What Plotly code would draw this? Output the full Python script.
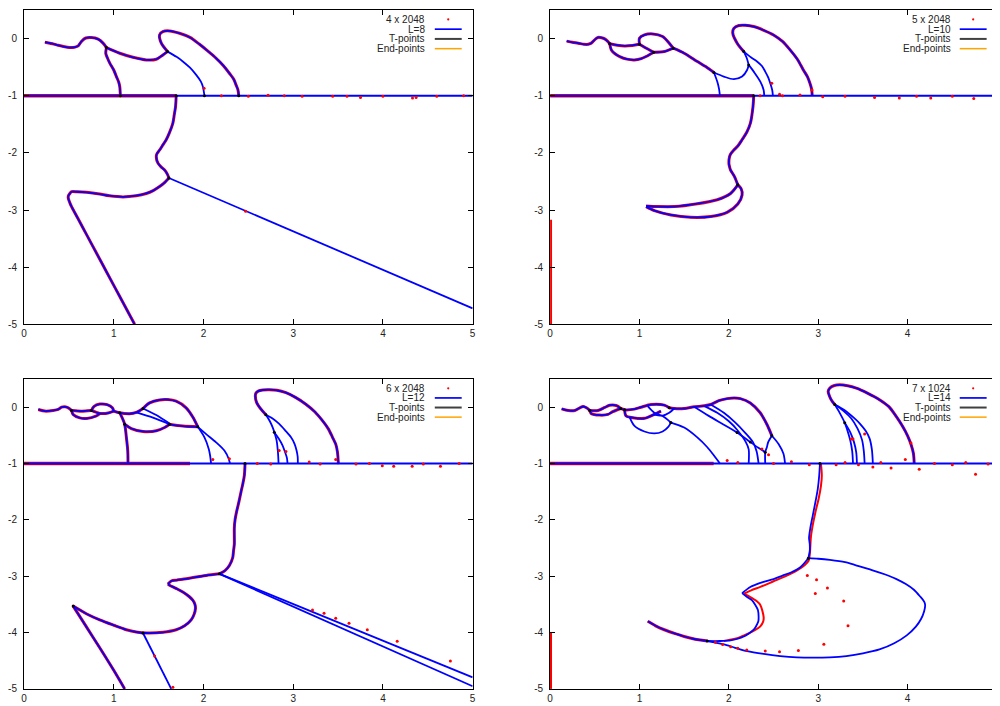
import plotly.graph_objects as go

# ---------------- labels / ticks ----------------
SERIES_LABELS = ["4 x 2048", "5 x 2048", "6 x 2048", "7 x 1024"]
LINE_LABELS = ["L=8", "L=10", "L=12", "L=14"]
X_TICKS_LEFT = [0, 1, 2, 3, 4, 5]
X_TICKS_RIGHT = [0, 1, 2, 3, 4]
Y_TICKS = [0, -1, -2, -3, -4, -5]
Y_TICK_TEXT = ["0", "-1", "-2", "-3", "-4", "-5"]

# ---------------- panel 1 (4 x 2048, L=8) ----------------
P1_X = [
    [0.233, 0.30, 0.363, 0.44, 0.511, 0.57, 0.604, 0.64, 0.689, 0.752, 0.826, 0.881, 0.919],
    [0.919, 1.067, 1.215, 1.363, 1.474, 1.548, 1.6],
    [0.919, 0.911, 0.93, 0.956, 1.0, 1.03, 1.055, 1.067, 1.074],
    [1.6, 1.53, 1.511, 1.548, 1.622, 1.733, 1.85, 1.956, 2.05, 2.141, 2.22, 2.289, 2.34, 2.363, 2.385, 2.393],
    [1.6, 1.70, 1.77, 1.85, 1.919, 1.97, 1.993, 2.011],
    [1.696, 1.689, 1.675, 1.659, 1.62, 1.585, 1.54, 1.511, 1.48, 1.474, 1.493, 1.53, 1.567, 1.6, 1.615],
    [1.615, 5.0],
    [1.615, 1.56, 1.511, 1.44, 1.363, 1.25, 1.104, 0.95, 0.844, 0.70, 0.585, 0.53, 0.511, 0.495, 0.493, 0.51, 0.53, 0.60, 0.696, 0.80, 0.919, 1.07, 1.233],
    [0.0, 5.0],
]
P1_Y = [
    [-0.064, -0.085, -0.11, -0.14, -0.158, -0.15, -0.128, -0.05, 0.01, 0.018, -0.01, -0.08, -0.158],
    [-0.158, -0.257, -0.327, -0.373, -0.362, -0.286, -0.228],
    [-0.158, -0.257, -0.34, -0.43, -0.55, -0.665, -0.76, -0.84, -1.0],
    [-0.228, -0.08, 0.064, 0.123, 0.134, 0.093, 0.02, -0.10, -0.22, -0.344, -0.47, -0.607, -0.72, -0.811, -0.9, -1.0],
    [-0.228, -0.32, -0.40, -0.51, -0.636, -0.75, -0.84, -1.0],
    [-1.0, -1.19, -1.33, -1.48, -1.65, -1.77, -1.88, -1.95, -2.02, -2.07, -2.18, -2.25, -2.30, -2.38, -2.44],
    [-2.44, -4.72],
    [-2.44, -2.53, -2.59, -2.66, -2.71, -2.75, -2.77, -2.75, -2.72, -2.69, -2.68, -2.68, -2.71, -2.75, -2.79, -2.87, -2.94, -3.145, -3.426, -3.731, -4.08, -4.522, -5.0],
    [-1.0, -1.0],
]
P1_RED = [1, 1, 1, 1, 0, 1, 0, 1, 0]
P1_REDONLY_X = [[0.0, 1.7]]
P1_REDONLY_Y = [[-1.0, -1.0]]
P1_T_X = [0.919, 1.6, 1.615, 1.074, 2.011, 2.393, 1.696]
P1_T_Y = [-0.158, -0.228, -2.44, -1.0, -1.0, -1.0, -1.0]
P1_DOT_X = [2.007, 2.2, 2.5, 2.72, 2.9, 3.1, 3.44, 3.6, 3.75, 4.0, 4.33, 4.37, 4.6, 4.9, 2.47]
P1_DOT_Y = [-0.87, -1.0, -1.01, -0.99, -1.0, -1.01, -1.01, -1.01, -1.03, -1.01, -1.04, -1.03, -1.01, -1.0, -3.02]

# ---------------- panel 2 (5 x 2048, L=10) ----------------
P2_X = [
    [0.185, 0.25, 0.315, 0.38, 0.426, 0.46, 0.481, 0.51, 0.537, 0.575, 0.611, 0.645, 0.667],
    [0.667, 0.75, 0.833, 0.92, 1.0],
    [0.667, 0.685, 0.73, 0.778, 0.86, 0.944, 1.02, 1.074, 1.159],
    [1.0, 1.0, 1.056, 1.148, 1.259, 1.333, 1.378],
    [1.0, 1.056, 1.159],
    [1.159, 1.278, 1.378],
    [1.378, 1.5, 1.648, 1.74, 1.833],
    [1.833, 1.87, 1.89, 1.9],
    [1.833, 1.944, 2.056, 2.148, 2.204, 2.222],
    [2.222, 2.2, 2.167],
    [2.167, 2.093, 2.044, 2.056, 2.111, 2.185, 2.278, 2.39, 2.5, 2.6, 2.685, 2.77, 2.833, 2.88, 2.907, 2.925, 2.933],
    [2.222, 2.278, 2.352, 2.389, 2.396],
    [2.167, 2.25, 2.315, 2.37, 2.407, 2.44, 2.463, 2.485, 2.493],
    [2.278, 2.27, 2.241, 2.2, 2.148, 2.1, 2.056, 2.02, 2.007, 2.0, 2.007, 2.019, 2.063, 2.1],
    [2.1, 2.019, 1.87, 1.648, 1.389, 1.204, 1.074],
    [1.074, 1.167, 1.352, 1.574, 1.796, 1.981, 2.1, 2.148, 2.137, 2.1],
    [0.0, 5.0],
]
P2_Y = [
    [-0.045, -0.065, -0.08, -0.10, -0.10, -0.08, -0.05, -0.005, 0.02, 0.015, -0.006, -0.05, -0.09],
    [-0.09, -0.115, -0.128, -0.12, -0.099],
    [-0.09, -0.198, -0.27, -0.314, -0.36, -0.373, -0.35, -0.314, -0.239],
    [-0.099, 0.006, 0.065, 0.082, 0.036, -0.081, -0.168],
    [-0.099, -0.151, -0.239],
    [-0.239, -0.227, -0.168],
    [-0.168, -0.256, -0.402, -0.49, -0.594],
    [-0.594, -0.752, -0.88, -1.003],
    [-0.594, -0.665, -0.711, -0.665, -0.55, -0.461],
    [-0.461, -0.34, -0.228],
    [-0.228, -0.08, 0.093, 0.18, 0.228, 0.233, 0.21, 0.145, 0.064, -0.05, -0.198, -0.37, -0.548, -0.67, -0.782, -0.88, -1.0],
    [-0.461, -0.578, -0.753, -0.9, -1.0],
    [-0.228, -0.33, -0.40, -0.48, -0.578, -0.68, -0.782, -0.9, -1.0],
    [-1.0, -1.19, -1.48, -1.64, -1.77, -1.88, -1.95, -2.02, -2.07, -2.18, -2.24, -2.30, -2.415, -2.56],
    [-2.56, -2.71, -2.82, -2.89, -2.94, -2.94, -2.93],
    [-2.94, -3.01, -3.086, -3.127, -3.115, -3.04, -2.894, -2.736, -2.625, -2.56],
    [-1.0, -1.0],
]
P2_RED = [1, 1, 1, 1, 1, 1, 1, 0, 0, 0, 1, 0, 0, 1, 1, 1, 0]
P2_REDONLY_X = [[0.0, 2.28], [0.008, 0.008]]
P2_REDONLY_Y = [[-1.0, -1.0], [-3.17, -5.0]]
P2_T_X = [0.667, 1.0, 1.159, 1.378, 1.833, 2.167, 2.222, 2.1, 2.278]
P2_T_Y = [-0.09, -0.099, -0.239, -0.168, -0.594, -0.228, -0.461, -2.56, -1.0]
P2_DOT_X = [2.48, 2.567, 2.796, 2.93, 3.05, 3.3, 3.63, 3.907, 4.1, 4.259, 4.5, 4.74, 2.35, 2.6]
P2_DOT_Y = [-0.78, -0.975, -0.986, -0.9, -1.02, -1.01, -1.03, -1.04, -1.01, -1.04, -1.01, -1.05, -1.0, -1.0]

# ---------------- panel 3 (6 x 2048, L=12) ----------------
P3_X = [
    [0.159, 0.233, 0.326, 0.381, 0.419, 0.456, 0.493, 0.530],
    [0.53, 0.641, 0.752],
    [0.53, 0.548, 0.622, 0.7, 0.8, 0.85],
    [0.752, 0.778, 0.844, 0.926, 0.985, 1.0],
    [0.752, 0.844, 0.937, 1.0],
    [1.0, 1.067, 1.178, 1.252, 1.326],
    [1.326, 1.4, 1.511, 1.604, 1.696, 1.807, 1.881, 1.937],
    [1.067, 1.085, 1.122, 1.141, 1.156, 1.159],
    [1.122, 1.196, 1.326, 1.474, 1.567, 1.622],
    [1.252, 1.437, 1.622],
    [1.326, 1.474, 1.622],
    [1.622, 1.77, 1.937],
    [1.937, 2.011, 2.059, 2.074, 2.085],
    [1.937, 2.03, 2.141, 2.233, 2.281, 2.296],
    [2.696, 2.641, 2.593, 2.578, 2.585, 2.61, 2.66, 2.733, 2.82, 2.919, 3.03, 3.141, 3.24, 3.326, 3.39, 3.437, 3.475, 3.493, 3.504],
    [2.696, 2.74, 2.77, 2.795, 2.815, 2.83, 2.837],
    [2.789, 2.84, 2.881, 2.91, 2.93, 2.937],
    [2.696, 2.77, 2.844, 2.91, 2.974, 3.015, 3.037, 3.05, 3.052],
    [2.463, 2.456, 2.44, 2.419, 2.395, 2.370, 2.352, 2.344, 2.344, 2.344, 2.335, 2.326, 2.289, 2.24, 2.178],
    [2.178, 2.03, 1.9, 1.807, 1.70, 1.641, 1.604],
    [1.604, 1.622, 1.70, 1.77, 1.84, 1.881, 1.905, 1.911, 1.895, 1.863, 1.79, 1.696, 1.55, 1.363, 1.25, 1.141, 1.0, 0.844, 0.70, 0.548],
    [0.548, 0.696, 0.844, 1.0, 1.122],
    [1.326, 1.641],
    [2.178, 5.0],
    [2.178, 5.0],
    [0.0, 5.0],
]
P3_Y = [
    [-0.040, -0.069, -0.058, -0.040, 0.0, 0.006, -0.011, -0.058],
    [-0.058, -0.07, -0.058],
    [-0.058, -0.13, -0.19, -0.2, -0.16, -0.11],
    [-0.058, 0.01, 0.055, 0.045, -0.011, -0.069],
    [-0.058, -0.11, -0.104, -0.069],
    [-0.069, -0.10, -0.116, -0.093, -0.023],
    [-0.023, 0.076, 0.129, 0.135, 0.106, -0.011, -0.174, -0.349],
    [-0.10, -0.157, -0.303, -0.536, -0.77, -1.003],
    [-0.303, -0.379, -0.431, -0.419, -0.361, -0.303],
    [-0.093, -0.186, -0.303],
    [-0.023, -0.14, -0.291],
    [-0.303, -0.335, -0.349],
    [-0.349, -0.536, -0.74, -0.857, -1.003],
    [-0.349, -0.478, -0.624, -0.77, -0.915, -1.003],
    [-0.134, -0.034, 0.082, 0.199, 0.25, 0.285, 0.305, 0.31, 0.30, 0.257, 0.17, 0.053, -0.08, -0.239, -0.38, -0.53, -0.66, -0.793, -1.009],
    [-0.134, -0.25, -0.355, -0.47, -0.589, -0.8, -1.0],
    [-0.443, -0.56, -0.676, -0.8, -0.9, -1.0],
    [-0.134, -0.2, -0.297, -0.41, -0.53, -0.65, -0.764, -0.88, -1.0],
    [-1.003, -1.208, -1.35, -1.50, -1.68, -1.85, -2.0, -2.14, -2.3, -2.43, -2.55, -2.67, -2.81, -2.9, -2.958],
    [-2.958, -2.987, -3.02, -3.046, -3.07, -3.085, -3.14],
    [-3.14, -3.16, -3.22, -3.28, -3.36, -3.425, -3.5, -3.57, -3.68, -3.775, -3.88, -3.95, -3.995, -4.008, -3.99, -3.95, -3.87, -3.775, -3.67, -3.53],
    [-3.53, -3.90, -4.27, -4.67, -5.0],
    [-4.008, -5.0],
    [-2.958, -4.796],
    [-2.958, -4.953],
    [-1.0, -1.0],
]
P3_RED = [1, 1, 1, 1, 1, 1, 1, 1, 1, 0, 0, 1, 0, 0, 1, 0, 0, 0, 1, 1, 1, 1, 0, 0, 0, 0]
P3_REDONLY_X = [[0.0, 1.85]]
P3_REDONLY_Y = [[-1.0, -1.0]]
P3_T_X = [0.53, 0.752, 1.067, 1.122, 1.326, 1.622, 1.937, 2.696, 2.789, 2.178, 1.326, 0.548, 2.463]
P3_T_Y = [-0.058, -0.058, -0.10, -0.303, -0.023, -0.303, -0.349, -0.134, -0.443, -2.958, -4.008, -3.53, -1.0]
P3_DOT_X = [1.456, 1.659, 3.215, 3.344, 3.474, 3.622, 3.826, 4.159, 4.752, 2.289, 2.104, 3.178, 3.474,
            2.844, 2.919, 3.993, 4.12, 4.326, 4.641, 2.6, 2.75, 3.3, 3.7, 3.85, 4.45, 4.85]
P3_DOT_Y = [-4.417, -4.97, -3.6, -3.658, -3.746, -3.833, -3.95, -4.154, -4.504, -0.916, -0.93, -0.974, -0.93,
            -0.77, -0.788, -1.04, -1.05, -1.05, -1.05, -1.0, -1.01, -1.01, -1.01, -1.0, -1.01, -1.0]

# ---------------- panel 4 (7 x 1024, L=14) ----------------
P4_X = [
    [0.129, 0.203, 0.277, 0.333, 0.37, 0.407, 0.444],
    [0.444, 0.537, 0.611, 0.666, 0.74, 0.79],
    [0.444, 0.463, 0.555, 0.648, 0.70, 0.79],
    [0.79, 0.833, 0.944, 1.018, 1.129, 1.277, 1.333],
    [1.333, 1.388, 1.5, 1.611, 1.722, 1.796, 1.888, 1.981, 2.06, 2.129, 2.24, 2.351, 2.425, 2.481],
    [2.481, 2.556, 2.611, 2.629],
    [2.481, 2.44, 2.425, 2.407, 2.407],
    [1.722, 1.87, 2.0, 2.092, 2.19, 2.222, 2.222],
    [1.796, 1.944, 2.07, 2.18, 2.27, 2.31, 2.333],
    [1.611, 1.77, 1.92, 2.092, 2.24, 2.33, 2.407],
    [0.833, 0.851, 0.925, 1.055, 1.148, 1.203, 1.24],
    [0.888, 0.944, 1.055, 1.166, 1.259, 1.322, 1.351],
    [1.092, 1.166, 1.259, 1.351],
    [1.148, 1.26, 1.333, 1.388],
    [1.351, 1.5, 1.647, 1.759, 1.833, 1.888, 1.9],
    [3.185, 3.15, 3.125, 3.111, 3.13, 3.18, 3.24, 3.33, 3.426, 3.55, 3.685, 3.79, 3.87, 3.94, 4.0, 4.04, 4.065, 4.074],
    [3.185, 3.24, 3.296, 3.33, 3.36, 3.38, 3.389],
    [3.296, 3.36, 3.40, 3.425, 3.433],
    [3.185, 3.278, 3.37, 3.44, 3.49, 3.51, 3.519],
    [3.185, 3.296, 3.40, 3.463, 3.53, 3.574, 3.60, 3.611],
    [3.019, 3.011, 2.995, 2.97, 2.94, 2.912, 2.897, 2.905, 2.905, 2.889],
    [2.889, 2.8, 2.7, 2.6, 2.5, 2.389, 2.3, 2.24, 2.148],
    [2.148, 2.204, 2.26, 2.296, 2.325, 2.333, 2.33, 2.3, 2.278, 2.22, 2.167, 2.1, 2.019, 1.9, 1.759],
    [1.759, 1.6, 1.5, 1.4, 1.278, 1.18, 1.093],
    [2.889, 3.0, 3.13, 3.3, 3.43, 3.6, 3.75, 3.87, 3.98, 4.07, 4.14, 4.185, 4.196, 4.185, 4.15, 4.09, 3.99, 3.85,
     3.685, 3.5, 3.315, 3.13, 2.944, 2.76, 2.574, 2.39, 2.204, 2.07, 1.944, 1.85, 1.759],
    [0.0, 5.0],
]
P4_Y = [
    [-0.029, -0.058, -0.058, -0.011, 0.012, -0.011, -0.058],
    [-0.058, -0.058, -0.005, 0.035, 0.03, -0.023],
    [-0.058, -0.116, -0.14, -0.128, -0.08, -0.023],
    [-0.023, -0.046, -0.034, 0.0, 0.047, 0.036, -0.011],
    [-0.011, -0.023, -0.023, 0.006, 0.024, 0.047, 0.117, 0.152, 0.164, 0.152, 0.076, -0.099, -0.303, -0.507],
    [-0.507, -0.653, -0.828, -1.003],
    [-0.507, -0.62, -0.711, -0.799, -1.003],
    [0.024, -0.10, -0.25, -0.40, -0.62, -0.75, -1.0],
    [0.047, -0.10, -0.27, -0.45, -0.62, -0.78, -1.0],
    [0.006, -0.15, -0.29, -0.45, -0.62, -0.72, -0.799],
    [-0.046, -0.157, -0.186, -0.198, -0.140, -0.10, -0.07],
    [-0.17, -0.332, -0.431, -0.466, -0.431, -0.35, -0.273],
    [0.018, -0.099, -0.157, -0.273],
    [-0.128, -0.15, -0.10, -0.023],
    [-0.273, -0.361, -0.536, -0.711, -0.857, -0.974, -1.003],
    [0.047, 0.12, 0.2, 0.28, 0.34, 0.385, 0.397, 0.38, 0.338, 0.25, 0.134, 0.01, -0.158, -0.33, -0.508, -0.67, -0.82, -1.0],
    [0.047, -0.1, -0.274, -0.43, -0.6, -0.78, -1.0],
    [-0.274, -0.45, -0.62, -0.8, -1.0],
    [0.047, -0.06, -0.2, -0.38, -0.58, -0.78, -1.0],
    [0.047, -0.053, -0.19, -0.286, -0.42, -0.554, -0.75, -1.0],
    [-1.0, -1.21, -1.45, -1.67, -1.91, -2.14, -2.32, -2.43, -2.55, -2.68],
    [-2.68, -2.84, -2.93, -2.99, -3.05, -3.10, -3.15, -3.19, -3.30],
    [-3.30, -3.37, -3.43, -3.51, -3.6, -3.72, -3.80, -3.90, -3.95, -4.02, -4.07, -4.11, -4.14, -4.15, -4.15],
    [-4.15, -4.11, -4.07, -4.02, -3.95, -3.88, -3.80],
    [-2.68, -2.69, -2.71, -2.75, -2.81, -2.89, -2.97, -3.046, -3.14, -3.24, -3.36, -3.45, -3.51, -3.62, -3.76, -3.90, -4.05, -4.19,
     -4.3, -4.37, -4.417, -4.44, -4.446, -4.44, -4.417, -4.38, -4.33, -4.27, -4.21, -4.18, -4.15],
    [-1.0, -1.0],
]
P4_RED = [1, 1, 1, 1, 1, 0, 0, 0, 0, 0, 1, 0, 0, 0, 0, 1, 0, 0, 0, 0, 0, 0, 0, 1, 0, 0]
P4_REDONLY_X = [
    [0.0, 1.83],
    [0.008, 0.008],
    [3.03, 3.04, 3.03, 3.005, 2.97, 2.94, 2.918, 2.91, 2.905, 2.893, 2.85, 2.759, 2.611, 2.5, 2.352, 2.25, 2.167],
    [2.167, 2.24, 2.31, 2.352, 2.389, 2.385, 2.352, 2.30, 2.24, 2.17, 2.093, 2.0, 1.944],
]
P4_REDONLY_Y = [
    [-1.0, -1.0],
    [-4.0, -5.0],
    [-1.0, -1.21, -1.4, -1.62, -1.85, -2.08, -2.3, -2.52, -2.62, -2.72, -2.8, -2.90, -3.016, -3.09, -3.19, -3.25, -3.31],
    [-3.31, -3.37, -3.44, -3.51, -3.72, -3.80, -3.89, -3.95, -4.0, -4.05, -4.10, -4.13, -4.15],
]
P4_T_X = [0.444, 0.79, 0.833, 1.351, 1.333, 2.481, 2.407, 2.092, 2.24, 3.185, 3.296, 2.889, 1.759, 3.019]
P4_T_Y = [-0.058, -0.023, -0.046, -0.273, -0.011, -0.507, -0.799, -0.45, -0.62, 0.047, -0.274, -2.68, -4.15, -1.0]
P4_DOT_X = [1.981, 2.37, 2.444, 3.389, 3.519, 3.974, 4.037, 4.13, 4.76, 3.815, 3.611, 2.878, 2.981, 3.103, 2.967,
            3.285, 3.333, 3.063, 2.778, 2.567, 2.407, 1.85, 1.93, 2.02, 2.1, 2.2, 2.1, 2.5, 2.7, 2.9, 3.2,
            3.3, 3.45, 3.7, 4.3, 4.5, 4.65, 4.9, 3.37]
P4_DOT_Y = [-0.945, -0.741, -0.846, -0.566, -0.478, -0.928, -0.636, -1.1, -1.19, -1.08, -1.06, -2.986, -3.063, -3.208, -3.308,
            -3.441, -3.879, -4.206, -4.317, -4.341, -4.329, -4.17, -4.21, -4.25, -4.28, -4.31, -0.98, -1.0, -0.97, -1.02, -1.02,
            -0.98, -1.02, -0.98, -1.0, -1.02, -0.98, -1.01, -0.565]

PANELS = [
    (P1_X, P1_Y, P1_RED, P1_REDONLY_X, P1_REDONLY_Y, P1_T_X, P1_T_Y, P1_DOT_X, P1_DOT_Y),
    (P2_X, P2_Y, P2_RED, P2_REDONLY_X, P2_REDONLY_Y, P2_T_X, P2_T_Y, P2_DOT_X, P2_DOT_Y),
    (P3_X, P3_Y, P3_RED, P3_REDONLY_X, P3_REDONLY_Y, P3_T_X, P3_T_Y, P3_DOT_X, P3_DOT_Y),
    (P4_X, P4_Y, P4_RED, P4_REDONLY_X, P4_REDONLY_Y, P4_T_X, P4_T_Y, P4_DOT_X, P4_DOT_Y),
]
AXES = [("x", "y"), ("x2", "y2"), ("x3", "y3"), ("x4", "y4")]

RED = "#ff0000"
BLUE = "#0000ff"
FONT = "Liberation Sans, Arial, Helvetica, sans-serif"

fig = go.Figure()

for (xs, ys, redflags, rox, roy, tx, ty, dx, dy), (xa, ya) in zip(PANELS, AXES):
    # red underlay (the data points, dense along the curves)
    for sx, sy, f in zip(xs, ys, redflags):
        if f:
            fig.add_trace(go.Scatter(x=sx, y=sy, xaxis=xa, yaxis=ya, mode="lines",
                                     line=dict(color=RED, width=3.0, shape="spline", smoothing=0.8),
                                     hoverinfo="skip"))
    for sx, sy in zip(rox, roy):
        if len(sx) == 2 and sy[0] == sy[1]:
            w = 3.6          # thick baseline part
        elif len(sx) == 2:
            w = 2.4          # vertical strip at x = 0
        else:
            w = 2.0
        fig.add_trace(go.Scatter(x=sx, y=sy, xaxis=xa, yaxis=ya, mode="lines",
                                 line=dict(color=RED, width=w, shape="spline", smoothing=0.8),
                                 hoverinfo="skip"))
    # blue L-lines
    for sx, sy in zip(xs, ys):
        is_base = (len(sx) == 2 and sy[0] == sy[1] == -1.0)
        fig.add_trace(go.Scatter(x=sx, y=sy, xaxis=xa, yaxis=ya, mode="lines",
                                 line=dict(color=BLUE, width=2.0 if is_base else 1.8,
                                           shape="spline", smoothing=0.8),
                                 hoverinfo="skip"))
    # T-points
    fig.add_trace(go.Scatter(x=tx, y=ty, xaxis=xa, yaxis=ya, mode="markers",
                             marker=dict(color="#000000", size=3), hoverinfo="skip"))
    # scattered data points
    fig.add_trace(go.Scatter(x=dx, y=dy, xaxis=xa, yaxis=ya, mode="markers",
                             marker=dict(color=RED, size=3), hoverinfo="skip"))

# ---------------- layout ----------------
# page has an 8px body margin, so the figure is 992x698 and placed at (8, 8)
X_DOMAINS = [[0.0, 0.4611], [0.5407, 1.0], [0.0, 0.4611], [0.5407, 1.0]]
Y_DOMAINS = [[0.5398, 1.0], [0.5398, 1.0], [0.006, 0.4597], [0.006, 0.4597]]

layout = dict(
    width=992, height=698,
    margin=dict(l=16, r=0, t=2, b=13),
    paper_bgcolor="white", plot_bgcolor="white",
    showlegend=False,
    font=dict(family=FONT, size=10, color="#222222"),
)
for i, (xa, ya) in enumerate(AXES):
    xkey = "xaxis" if i == 0 else f"xaxis{i+1}"
    ykey = "yaxis" if i == 0 else f"yaxis{i+1}"
    xt = X_TICKS_LEFT if i % 2 == 0 else X_TICKS_RIGHT
    layout[xkey] = dict(domain=X_DOMAINS[i], range=[0, 5], anchor=ya,
                        tickvals=xt, ticktext=[str(v) for v in xt],
                        ticks="inside", ticklen=5, tickcolor="black", tickwidth=1,
                        showline=True, linecolor="black", linewidth=1, mirror="allticks",
                        showgrid=False, zeroline=False,
                        tickfont=dict(family=FONT, size=10, color="#222222"))
    layout[ykey] = dict(domain=Y_DOMAINS[i], range=[-5, 0.5], anchor=xa,
                        tickvals=Y_TICKS, ticktext=Y_TICK_TEXT,
                        ticks="inside", ticklen=5, tickcolor="black", tickwidth=1,
                        showline=True, linecolor="black", linewidth=1, mirror="allticks",
                        showgrid=False, zeroline=False, ticklabelstandoff=4,
                        tickfont=dict(family=FONT, size=10, color="#222222"))
fig.update_layout(**layout)

# ---------------- gnuplot-style key (text left, sample right) ----------------
LEG_ROWS = [0.970, 0.939, 0.908, 0.877]
annotations = []
shapes = []
for i, (xa, ya) in enumerate(AXES):
    left = (i % 2 == 0)
    tx_ = 0.898 if left else 0.902
    s0, s1 = (0.9156, 0.9756) if left else (0.9166, 0.9768)
    texts = [SERIES_LABELS[i], LINE_LABELS[i], "T-points", "End-points"]
    for r, t in enumerate(texts):
        annotations.append(dict(x=tx_, y=LEG_ROWS[r], xref=f"{xa} domain", yref=f"{ya} domain",
                                xanchor="right", yanchor="middle", text=t, showarrow=False,
                                font=dict(family=FONT, size=10, color="#222222")))
    shapes.append(dict(type="circle", xref=f"{xa} domain", yref=f"{ya} domain",
                       xsizemode="pixel", ysizemode="pixel",
                       xanchor=(s0 + s1) / 2, yanchor=LEG_ROWS[0],
                       x0=-1.1, x1=1.1, y0=-1.1, y1=1.1,
                       fillcolor=RED, line=dict(width=0)))
    for r, col, w in [(1, BLUE, 1.7), (2, "#404040", 2.0), (3, "#ffa500", 1.5)]:
        shapes.append(dict(type="line", xref=f"{xa} domain", yref=f"{ya} domain",
                           x0=s0, x1=s1, y0=LEG_ROWS[r], y1=LEG_ROWS[r],
                           line=dict(color=col, width=w)))
fig.update_layout(annotations=annotations, shapes=shapes)

fig.write_html("out.html")
